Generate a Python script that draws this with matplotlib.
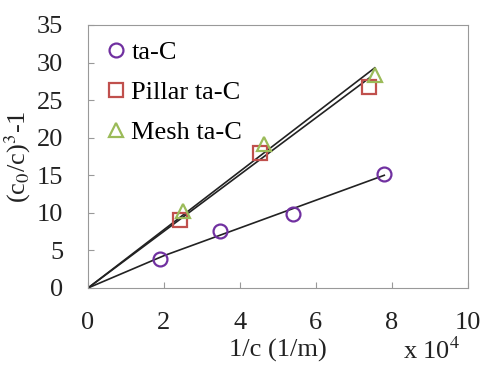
import numpy as np
import matplotlib
matplotlib.use('Agg')
import matplotlib.pyplot as plt

#data (x in units of 1e4 1/m)
tac_x = [1.89, 3.47, 5.40, 7.80]
tac_y = [3.9, 7.6, 9.8, 15.2]
pillar_x = [2.42, 4.53, 7.40]
pillar_y = [9.0, 17.9, 26.8]
mesh_x = [2.49, 4.63, 7.55]
mesh_y = [10.3, 19.2, 28.4]

#trend lines
tac_fit_x = [0, 2.0, 7.8]
tac_fit_y = [0, 4.3, 15.0]
pillar_fit_x = [0, 7.42]
pillar_fit_y = [0, 28.0]
mesh_fit_x = [0, 7.55]
mesh_fit_y = [0, 29.3]

xticks = [0, 2, 4, 6, 8, 10]
yticks = [0, 5, 10, 15, 20, 25, 30, 35]

plt.rcParams['font.family'] = ['Liberation Serif', 'DejaVu Serif']
plt.rcParams['mathtext.fontset'] = 'stix'
font = 19

f = plt.figure(figsize=(4.82, 3.67), dpi=100)
ax = f.add_axes([0.1826, 0.2153, 0.788, 0.7166])

ax.plot(tac_fit_x, tac_fit_y, color='#222222', lw=1.2)
ax.plot(pillar_fit_x, pillar_fit_y, color='#222222', lw=1.2)
ax.plot(mesh_fit_x, mesh_fit_y, color='#222222', lw=1.2)

ax.plot(tac_x, tac_y, 'o', ms=10, mfc='none', mec='#7030A0', mew=1.6, label='ta-C')
ax.plot(pillar_x, pillar_y, 's', ms=9.5, mfc='none', mec='#C0504D', mew=1.6, label='Pillar ta-C')
ax.plot(mesh_x, mesh_y, '^', ms=10, mfc='none', mec='#9BBB59', mew=1.6, label='Mesh ta-C')

ax.set_xlim(0, 10)
ax.set_ylim(0, 35)
ax.set_xticks(xticks)
ax.set_yticks(yticks)
ax.tick_params(direction='in', length=4, color='#999999', labelsize=font, labelcolor='#222222')
ax.tick_params(axis='x', pad=17)
ax.tick_params(axis='y', pad=18)
for s in ax.spines.values():
    s.set_color('#999999')

ax.legend(loc='upper left', frameon=False, fontsize=font, handlelength=0.6,
          handletextpad=0.3, labelspacing=0.62, borderaxespad=0.2,
          bbox_to_anchor=(0.01, 1.0))

ax.set_ylabel(r'(c$_0$/c)$^3$-1', fontsize=font, color='#222222')
ax.yaxis.set_label_coords(-0.145, 0.5)
f.text(0.577, 0.045, '1/c (1/m)', ha='center', va='center', fontsize=font, color='#222222')
f.text(0.895, 0.045, r'x 10$^4$', ha='center', va='center', fontsize=font, color='#222222')

f.savefig('out.png', dpi=100)
